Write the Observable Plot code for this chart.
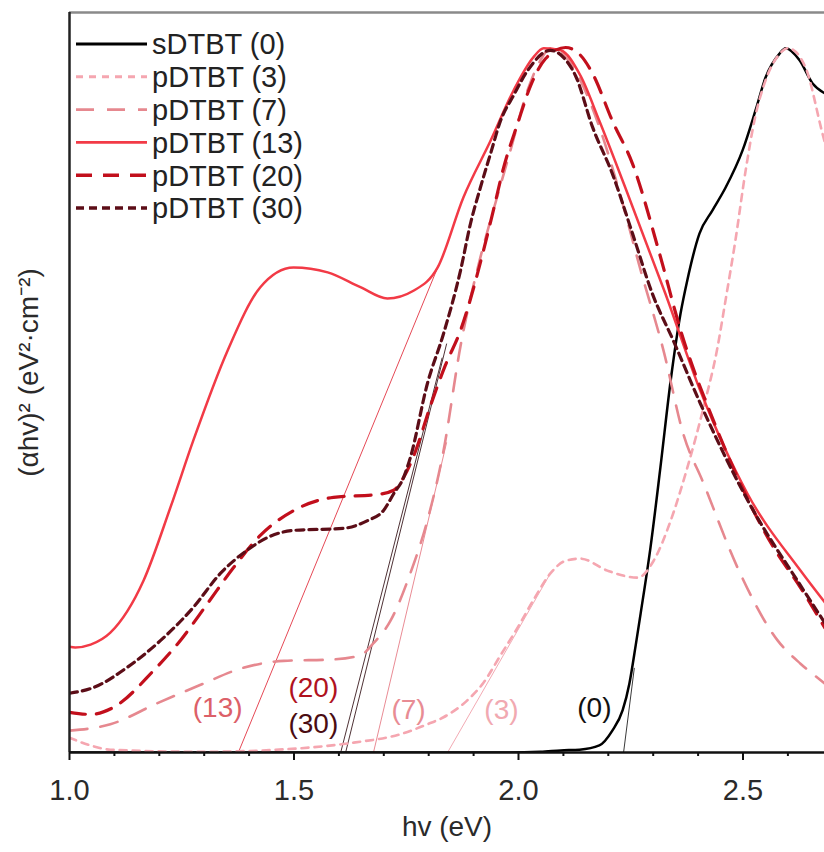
<!DOCTYPE html>
<html>
<head>
<meta charset="utf-8">
<script src="https://cdn.jsdelivr.net/npm/d3@7"></script>
<script src="https://cdn.jsdelivr.net/npm/@observablehq/plot@0.6"></script>
<style>
  html, body { margin: 0; padding: 0; background: #fff; }
  #wrap { position: relative; width: 824px; height: 852px; overflow: hidden; font-family: "Liberation Sans", Arial, sans-serif; }
  #legend { position: absolute; left: 0; top: 0; pointer-events: none; }
</style>
</head>
<body>
<div id="wrap"></div>
<script>
// ---- data (photon energy in eV, normalised (αhv)^2) ----
const seriesNames = ["sDTBT (0)", "pDTBT (3)", "pDTBT (7)", "pDTBT (13)", "pDTBT (20)", "pDTBT (30)"];

const sDTBT0 = [[1.00,0],[1.514,0],[1.96,0],[2.049,0.001],[2.094,0.003],[2.136,0.004],[2.180,0.010],[2.209,0.031],[2.232,0.060],[2.247,0.098],[2.261,0.152],[2.272,0.197],[2.294,0.291],[2.316,0.404],[2.339,0.528],[2.361,0.623],[2.376,0.670],[2.403,0.736],[2.432,0.769],[2.461,0.801],[2.499,0.854],[2.528,0.911],[2.550,0.957],[2.581,0.991],[2.595,0.999],[2.626,0.982],[2.655,0.949],[2.682,0.935]];

const pDTBT3 = [[1.0,0.021],[1.047,0.010],[1.091,0.004],[1.292,0.001],[1.514,0.006],[1.633,0.014],[1.737,0.026],[1.797,0.040],[1.833,0.050],[1.886,0.074],[1.922,0.099],[1.960,0.138],[1.998,0.177],[2.033,0.216],[2.071,0.254],[2.105,0.272],[2.138,0.275],[2.198,0.258],[2.265,0.248],[2.301,0.272],[2.339,0.329],[2.376,0.404],[2.412,0.489],[2.443,0.574],[2.461,0.641],[2.483,0.726],[2.506,0.826],[2.528,0.904],[2.550,0.953],[2.579,0.989],[2.601,0.999],[2.639,0.972],[2.677,0.878],[2.682,0.866]];

const pDTBT7 = [[1.0,0.031],[1.091,0.040],[1.196,0.070],[1.292,0.096],[1.381,0.119],[1.477,0.130],[1.588,0.132],[1.648,0.138],[1.677,0.155],[1.715,0.187],[1.759,0.254],[1.797,0.329],[1.833,0.428],[1.871,0.577],[1.915,0.702],[1.944,0.769],[1.982,0.854],[2.020,0.939],[2.049,0.982],[2.071,0.999],[2.094,0.993],[2.138,0.953],[2.183,0.882],[2.227,0.790],[2.272,0.684],[2.323,0.570],[2.367,0.452],[2.412,0.382],[2.488,0.262],[2.577,0.159],[2.628,0.126],[2.666,0.106],[2.682,0.098]];

const pDTBT13 = [[1.0,0.150],[1.013,0.149],[1.047,0.153],[1.091,0.170],[1.165,0.244],[1.225,0.348],[1.276,0.443],[1.352,0.570],[1.425,0.660],[1.499,0.688],[1.575,0.681],[1.648,0.660],[1.708,0.644],[1.766,0.655],[1.820,0.688],[1.877,0.787],[1.938,0.868],[1.989,0.939],[2.033,0.986],[2.056,0.999],[2.094,0.996],[2.138,0.960],[2.180,0.896],[2.238,0.801],[2.327,0.651],[2.405,0.513],[2.510,0.367],[2.628,0.258],[2.682,0.213]];

const pDTBT20 = [[1.0,0.057],[1.047,0.054],[1.098,0.064],[1.187,0.116],[1.247,0.159],[1.307,0.211],[1.365,0.262],[1.425,0.308],[1.499,0.343],[1.588,0.362],[1.686,0.366],[1.722,0.372],[1.744,0.390],[1.771,0.428],[1.804,0.492],[1.837,0.549],[1.871,0.599],[1.922,0.712],[1.944,0.769],[1.967,0.830],[1.998,0.892],[2.027,0.946],[2.060,0.984],[2.105,1.0],[2.138,0.989],[2.165,0.963],[2.209,0.896],[2.254,0.835],[2.314,0.708],[2.361,0.599],[2.434,0.471],[2.568,0.291],[2.628,0.234],[2.682,0.177]];

const pDTBT30 = [[1.0,0.084],[1.053,0.092],[1.129,0.121],[1.203,0.159],[1.276,0.206],[1.336,0.254],[1.396,0.287],[1.441,0.305],[1.499,0.315],[1.610,0.318],[1.664,0.329],[1.699,0.343],[1.722,0.367],[1.744,0.390],[1.759,0.418],[1.797,0.523],[1.833,0.594],[1.871,0.684],[1.893,0.750],[1.915,0.801],[1.938,0.850],[1.960,0.896],[1.989,0.932],[2.020,0.967],[2.071,0.996],[2.100,0.986],[2.127,0.960],[2.165,0.887],[2.209,0.821],[2.254,0.736],[2.298,0.651],[2.345,0.584],[2.405,0.495],[2.517,0.350],[2.628,0.237],[2.682,0.184]];

// Tauc tangent lines: [E0, v0, E1, v1]
const tangentNames = ["(0)", "(3)", "(7)", "(13)", "(20)", "(30)"];
const tangentLines = [[2.234,0,2.258,0.12],[1.842,0,2.071,0.254],[1.677,0,1.84,0.44],[1.376,0,1.82,0.688],[1.604,0,1.83,0.56],[1.615,0,1.84,0.58]];

// annotation labels
const labelText = ["(13)", "(20)", "(30)", "(7)", "(3)", "(0)"];
const labelE = [1.330, 1.543, 1.543, 1.755, 1.962, 2.169];
const labelV = [0.063, 0.092, 0.040, 0.060, 0.060, 0.063];

const xMajorTicks = [1.0, 1.5, 2.0, 2.5];
const xMinorTicks = [1.1, 1.2, 1.3, 1.4, 1.6, 1.7, 1.8, 1.9, 2.1, 2.2, 2.3, 2.4, 2.6];

// ---- styles ----
const seriesColors = ["#000000", "#f5a6b0", "#e6888f", "#f23a46", "#c20f1c", "#5c0d17"];
const seriesDash = [null, "7,6", "18,13", null, "16,11", "8,5"];
const seriesWidth = [2.5, 2.6, 2.6, 2.5, 3.2, 3.2];
const tangentColors = ["#222", "#f0a0aa", "#e77e88", "#e23342", "#3a1a1e", "#3a1a1e"];
const labelColors = ["#dc6068", "#b0121e", "#4a0c12", "#e88c94", "#f1a9b1", "#111111"];

const seriesData = [sDTBT0, pDTBT3, pDTBT7, pDTBT13, pDTBT20, pDTBT30];
const rows = seriesData.flatMap((arr, i) => arr.map(([e, v]) => ({name: seriesNames[i], i, e, v})));
const tangents = tangentLines.map(([e0, v0, e1, v1], i) => ({name: tangentNames[i], i, e0, v0, e1, v1}));
const labels = labelText.map((t, i) => ({t, e: labelE[i], v: labelV[i], c: labelColors[i]}));

const xMax = 1 + 755 / 449;
const yMax = 740 / 705;
const font = "Liberation Sans, Arial, sans-serif";

const lineMarks = seriesData.map((arr, i) => Plot.line(rows.filter(d => d.i === i), {
  x: "e", y: "v", stroke: seriesColors[i], strokeWidth: seriesWidth[i],
  strokeDasharray: seriesDash[i] || undefined, curve: "monotone-x", clip: true
}));

const chart = Plot.plot({
  width: 824, height: 852,
  marginLeft: 69, marginRight: 0, marginTop: 12, marginBottom: 100,
  style: {background: "#fff", fontFamily: font, overflow: "visible"},
  x: {domain: [1.0, xMax]},
  y: {domain: [0, yMax], axis: null},
  marks: [
    Plot.link(tangents, {x1: "e0", y1: "v0", x2: "e1", y2: "v1",
      stroke: (d) => tangentColors[d.i], strokeWidth: 0.9}),
    ...lineMarks,
    Plot.text(labels, {x: "e", y: "v", text: "t", fill: "c", fontSize: 28, fontFamily: font}),
    Plot.ruleY([yMax], {stroke: "#8a8a8a", strokeWidth: 2.5}),
    Plot.ruleX([1.0], {stroke: "#222", strokeWidth: 2.5}),
    Plot.ruleY([0], {stroke: "#111", strokeWidth: 2.5}),
    Plot.axisX({ticks: xMinorTicks, tickSize: 4, tickFormat: () => "", stroke: "#111", strokeWidth: 2}),
    Plot.axisX({ticks: xMajorTicks, tickSize: 8, tickPadding: 19, tickFormat: d3.format(".1f"),
      fontSize: 29, fill: "#2a2a2a", stroke: "#111", strokeWidth: 2, label: null}),
    Plot.text(["hv (eV)"], {frameAnchor: "bottom", dy: 83, fontSize: 28, fill: "#2a2a2a", fontFamily: font}),
    Plot.text(["(αhv)² (eV²·cm⁻²)"], {frameAnchor: "left", textAnchor: "middle", dx: -40, dy: -10, rotate: -90, fontSize: 28, fill: "#2a2a2a", fontFamily: font})
  ]
});

const wrap = document.getElementById("wrap");
wrap.appendChild(chart);

// ---- legend overlay (inside plot, top-left) ----
const leg = d3.select(wrap).append("svg").attr("id", "legend").attr("width", 824).attr("height", 852);
seriesNames.forEach((name, i) => {
  const cy = 44 + i * 32.8;
  leg.append("line").attr("x1", 76).attr("x2", 147).attr("y1", cy).attr("y2", cy)
    .attr("stroke", seriesColors[i]).attr("stroke-width", seriesWidth[i] + 0.3)
    .attr("stroke-dasharray", seriesDash[i] || null);
  leg.append("text").attr("x", 152).attr("y", cy).attr("dy", "0.36em")
    .attr("font-family", font).attr("font-size", 29).attr("fill", "#222").text(name);
});
</script>
</body>
</html>
